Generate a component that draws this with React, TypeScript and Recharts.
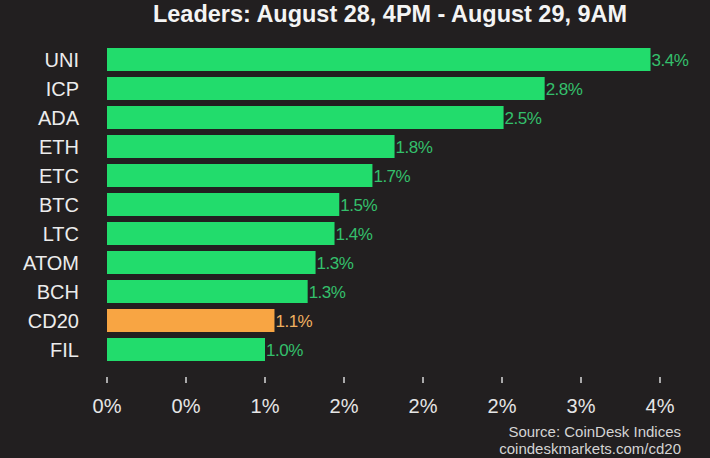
import React from 'react';
import { BarChart, Bar, XAxis, YAxis, Cell, LabelList } from 'recharts';

const coins = ['UNI', 'ICP', 'ADA', 'ETH', 'ETC', 'BTC', 'LTC', 'ATOM', 'BCH', 'CD20', 'FIL'];
const changes = [3.44, 2.77, 2.51, 1.82, 1.68, 1.47, 1.44, 1.32, 1.27, 1.06, 1.0];
const xTicks = [0, 0.5, 1, 1.5, 2, 2.5, 3, 3.5];
const xTickLabels = ['0%', '0%', '1%', '2%', '2%', '2%', '3%', '4%'];

const data = coins.map((name, i) => ({ name, value: changes[i] }));

const BG = '#221f20';
const GREEN = '#22dc6c';
const ORANGE = '#f8a543';
const FONT = '"Liberation Sans", Arial, sans-serif';

const XTick = (props: any) => {
  const { x, y, index } = props;
  return (
    <g>
      <line x1={x} x2={x} y1={y + 13} y2={y + 19} stroke="#d8d8d8" strokeWidth={1.5} />
      <text x={x} y={y + 49} textAnchor="middle" fill="#e6e6e6" fontSize={20} fontFamily={FONT}>
        {xTickLabels[index]}
      </text>
    </g>
  );
};

const YTick = (props: any) => {
  const { y, payload } = props;
  return (
    <text x={79} y={y + 7} textAnchor="end" fill="#ececec" fontSize={20} fontFamily={FONT}>
      {payload.value}
    </text>
  );
};

const ValueLabel = (props: any) => {
  const { x, y, width, height, value, index } = props;
  const isIndex = coins[index] === 'CD20';
  return (
    <text
      x={x + width + 1}
      y={y + height / 2 + 6}
      fill={isIndex ? '#f0b060' : '#34c06c'}
      fontSize={17}
      fontFamily={FONT}
      letterSpacing={-0.5}
    >
      {`${Number(value).toFixed(1)}%`}
    </text>
  );
};

export default function App() {
  return (
    <div style={{ position: 'relative', width: 710, height: 458, background: BG, overflow: 'hidden' }}>
      <style>{`body{margin:0;background:${BG};}`}</style>
      <BarChart
        width={710}
        height={458}
        data={data}
        layout="vertical"
        margin={{ top: 45, right: 50, bottom: 0, left: 0 }}
        barCategoryGap={3}
      >
        <XAxis
          type="number"
          domain={[0, 3.5]}
          ticks={xTicks}
          axisLine={false}
          tickLine={false}
          tickSize={0}
          tickMargin={0}
          height={94}
          tick={<XTick />}
          interval={0}
        />
        <YAxis
          type="category"
          dataKey="name"
          width={107}
          axisLine={false}
          tickLine={false}
          tick={<YTick />}
          interval={0}
        />
        <Bar dataKey="value" barSize={23} isAnimationActive={false}>
          {data.map((d) => (
            <Cell key={d.name} fill={d.name === 'CD20' ? ORANGE : GREEN} />
          ))}
          <LabelList dataKey="value" content={<ValueLabel />} />
        </Bar>
      </BarChart>
      <svg width={710} height={458} style={{ position: 'absolute', left: 0, top: 0, pointerEvents: 'none' }}>
        <text
          x={390}
          y={22}
          textAnchor="middle"
          fill="#f4f4f4"
          fontSize={24}
          fontWeight="bold"
          fontFamily={FONT}
          textLength={474}
          lengthAdjust="spacingAndGlyphs"
        >
          Leaders: August 28, 4PM - August 29, 9AM
        </text>
        <text x={681} y={437} textAnchor="end" fill="#d4d4d4" fontSize={15} fontFamily={FONT}>
          Source: CoinDesk Indices
        </text>
        <text x={681} y={454} textAnchor="end" fill="#d4d4d4" fontSize={15} fontFamily={FONT}>
          coindeskmarkets.com/cd20
        </text>
      </svg>
    </div>
  );
}
